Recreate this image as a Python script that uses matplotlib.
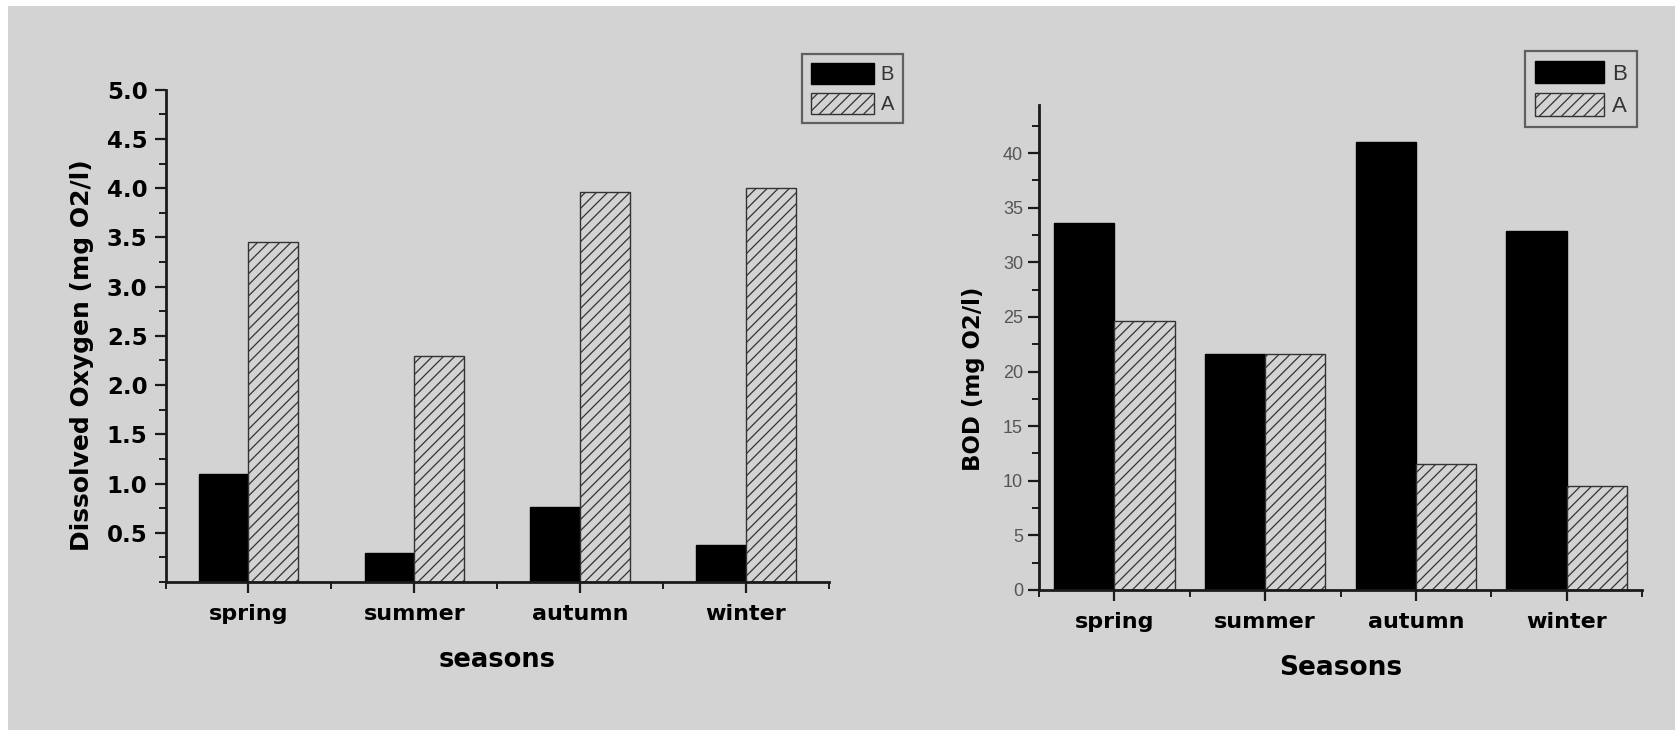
import matplotlib
matplotlib.use("Agg")
import matplotlib.pyplot as plt
import numpy as np
from matplotlib.ticker import MultipleLocator, FixedLocator
from matplotlib.patches import Rectangle

plt.rcParams['font.family'] = ['Liberation Sans', 'DejaVu Sans']
plt.rcParams['hatch.linewidth'] = 0.9

# ---- data ----
seasons = ["spring", "summer", "autumn", "winter"]
do_B = [1.1, 0.29, 0.76, 0.38]
do_A = [3.45, 2.30, 3.96, 4.0]
bod_B = [33.6, 21.6, 41.0, 32.9]
bod_A = [24.6, 21.6, 11.5, 9.5]
do_yticks = [0.5, 1.0, 1.5, 2.0, 2.5, 3.0, 3.5, 4.0, 4.5, 5.0]
bod_yticks = [0, 5, 10, 15, 20, 25, 30, 35, 40]

BG = '#d3d3d3'
BOLD = dict(family=['DejaVu Sans'], fontweight='bold')
W, H = 1675, 730
fig = plt.figure(figsize=(W / 100, H / 100), dpi=100, facecolor='white')
fig.patches.append(Rectangle((8 / W, 0), 1, 1 - 6 / H, transform=fig.transFigure,
                             facecolor=BG, edgecolor='none', zorder=-10))

def fx(px):
    return px / W

def fy(py):
    return 1 - py / H

def style_axes(ax):
    ax.patch.set_alpha(0)
    for s in ['top', 'right']:
        ax.spines[s].set_visible(False)
    for s in ['left', 'bottom']:
        ax.spines[s].set_linewidth(2.0)
        ax.spines[s].set_color('#1a1a1a')
    ax.tick_params(which='major', direction='out', length=8, width=1.6, color='#1a1a1a')
    ax.tick_params(which='minor', direction='out', length=5, width=1.4, color='#1a1a1a')

def style_legend(leg):
    leg.get_frame().set_linewidth(1.6)
    for t in leg.get_texts():
        t.set_color('#333333')

x = np.arange(len(seasons))

# ---- left chart ----
ax1 = fig.add_axes([fx(165.5), fy(582), fx(829) - fx(165.5), fy(89.7) - fy(582)])
style_axes(ax1)
w1 = 0.3
ax1.bar(x - w1 / 2, do_B, width=w1, color='black', edgecolor='black', linewidth=1, label='B')
ax1.bar(x + w1 / 2, do_A, width=w1, color=BG, edgecolor='#333333', hatch='///', linewidth=1, label='A')
ax1.set_xlim(-0.5, 3.5)
ax1.set_ylim(0, 5.0)
ax1.yaxis.set_major_locator(FixedLocator(do_yticks))
ax1.set_yticklabels([f"{v:.1f}" for v in do_yticks], fontsize=16.5, **BOLD)
ax1.yaxis.set_minor_locator(MultipleLocator(0.25))
ax1.set_xticks(x)
ax1.set_xticklabels(seasons, fontsize=16, **BOLD)
ax1.xaxis.set_minor_locator(FixedLocator([-0.5, 0.5, 1.5, 2.5, 3.5]))
ax1.tick_params(axis='y', which='major', pad=5)
ax1.tick_params(axis='x', which='major', pad=8)
ax1.set_xlabel("seasons", fontsize=18.5, **BOLD)
ax1.xaxis.set_label_coords(0.5, -0.133)
ax1.set_ylabel("Dissolved Oxygen (mg O2/l)", fontsize=18, **BOLD)
ax1.yaxis.set_label_coords(-0.108, 0.461)

leg1 = fig.legend(handles=[ax1.containers[0], ax1.containers[1]], labels=['B', 'A'],
                  loc='upper right', bbox_to_anchor=(fx(903), fy(54)), fontsize=14.5,
                  frameon=True, fancybox=False, edgecolor='#444444', facecolor=BG,
                  handlelength=3.1, handleheight=1.2, labelspacing=0.45,
                  handletextpad=0.35, borderpad=0.45, borderaxespad=0)
style_legend(leg1)

# ---- right chart ----
ax2 = fig.add_axes([fx(1039), fy(590), fx(1642) - fx(1039), fy(105) - fy(590)])
style_axes(ax2)
w2 = 0.4
ax2.bar(x - w2 / 2, bod_B, width=w2, color='black', edgecolor='black', linewidth=1, label='B')
ax2.bar(x + w2 / 2, bod_A, width=w2, color=BG, edgecolor='#333333', hatch='///', linewidth=1, label='A')
ax2.set_xlim(-0.5, 3.5)
ax2.set_ylim(0, 44.4)
ax2.yaxis.set_major_locator(FixedLocator(bod_yticks))
ax2.set_yticklabels([str(v) for v in bod_yticks], fontsize=13, color='#555555')
ax2.yaxis.set_minor_locator(MultipleLocator(2.5))
ax2.set_xticks(x)
ax2.set_xticklabels(seasons, fontsize=16, **BOLD)
ax2.xaxis.set_minor_locator(FixedLocator([-0.5, 0.5, 1.5, 2.5, 3.5]))
ax2.tick_params(axis='x', which='major', pad=8)
ax2.set_xlabel("Seasons", fontsize=19, **BOLD)
ax2.xaxis.set_label_coords(0.5, -0.133)
ax2.set_ylabel("BOD (mg O2/l)", fontsize=16.5, **BOLD)
ax2.yaxis.set_label_coords(-0.09, 0.435)

leg2 = fig.legend(handles=[ax2.containers[0], ax2.containers[1]], labels=['B', 'A'],
                  loc='upper right', bbox_to_anchor=(fx(1637), fy(51)), fontsize=16,
                  frameon=True, fancybox=False, edgecolor='#444444', facecolor=BG,
                  handlelength=3.1, handleheight=1.15, labelspacing=0.4,
                  handletextpad=0.35, borderpad=0.45, borderaxespad=0)
style_legend(leg2)

fig.savefig("out.png", dpi=100, facecolor='white')
